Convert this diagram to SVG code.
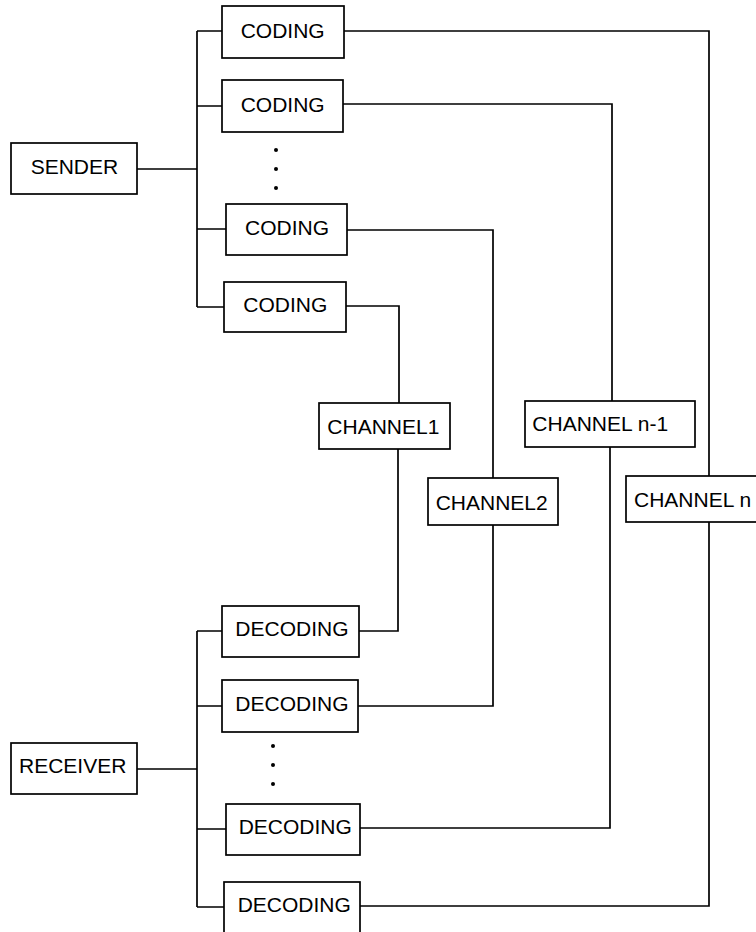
<svg xmlns="http://www.w3.org/2000/svg" width="756" height="932" viewBox="0 0 756 932">
<style>
rect{fill:#fff;stroke:#000;stroke-width:1.7}
text{font-family:"Liberation Sans",Arial,sans-serif;font-size:21px;fill:#000}
#connectors path{fill:none;stroke:#000;stroke-width:1.7}
.dot{fill:#000}
</style>
<rect x="0" y="0" width="756" height="932" style="stroke:none"/>
<g id="connectors">
<path d="M137,169 H197 M197,31 V307 M197,31 H222 M197,106 H222 M197,229 H226 M197,307 H224"/>
<path d="M137,769 H197 M197,631 V907 M197,631 H222 M197,706 H222 M197,829 H226 M197,907 H224"/>
<path d="M344,31 H709 V476"/>
<path d="M343,104 H612 V401"/>
<path d="M347,230 H493 V478"/>
<path d="M346,306 H399 V403"/>
<path d="M398,449 V631 H359"/>
<path d="M493,525 V706 H358"/>
<path d="M610,447 V828 H360"/>
<path d="M709,522 V906 H360"/>
</g>
<g id="sender"><rect x="11" y="143" width="126" height="51"/><text x="30.7" y="174">SENDER</text></g>
<g id="coding1"><rect x="222" y="6" width="122" height="52"/><text x="240.7" y="37.5">CODING</text></g>
<g id="coding2"><rect x="222" y="80" width="121" height="52"/><text x="240.7" y="111.7">CODING</text></g>
<g id="coding-dots"><circle class="dot" cx="276" cy="150" r="2"/><circle class="dot" cx="276" cy="169" r="2"/><circle class="dot" cx="276" cy="188" r="2"/></g>
<g id="coding3"><rect x="226" y="204" width="121" height="51"/><text x="245" y="235">CODING</text></g>
<g id="coding4"><rect x="224" y="282" width="122" height="50"/><text x="243.3" y="311.7">CODING</text></g>
<g id="channel1"><rect x="319" y="403" width="131" height="46"/><text x="327.3" y="434">CHANNEL1</text></g>
<g id="channel2"><rect x="428" y="478" width="130" height="47"/><text x="435.7" y="510">CHANNEL2</text></g>
<g id="channel-n-1"><rect x="525" y="401" width="170" height="46"/><text x="532.3" y="431">CHANNEL n-1</text></g>
<g id="channel-n"><rect x="626" y="476" width="140" height="46"/><text x="634" y="507">CHANNEL n</text></g>
<g id="receiver"><rect x="11" y="743" width="126" height="51"/><text x="19" y="773.3">RECEIVER</text></g>
<g id="decoding1"><rect x="222" y="606" width="137" height="51"/><text x="235.3" y="636">DECODING</text></g>
<g id="decoding2"><rect x="222" y="680" width="136" height="52"/><text x="235.3" y="711">DECODING</text></g>
<g id="decoding-dots"><circle class="dot" cx="273" cy="746" r="2"/><circle class="dot" cx="273" cy="765" r="2"/><circle class="dot" cx="273" cy="784" r="2"/></g>
<g id="decoding3"><rect x="226" y="804" width="134" height="51"/><text x="238.7" y="833.7">DECODING</text></g>
<g id="decoding4"><rect x="224" y="882" width="136" height="54"/><text x="237.7" y="911.7">DECODING</text></g>
</svg>
